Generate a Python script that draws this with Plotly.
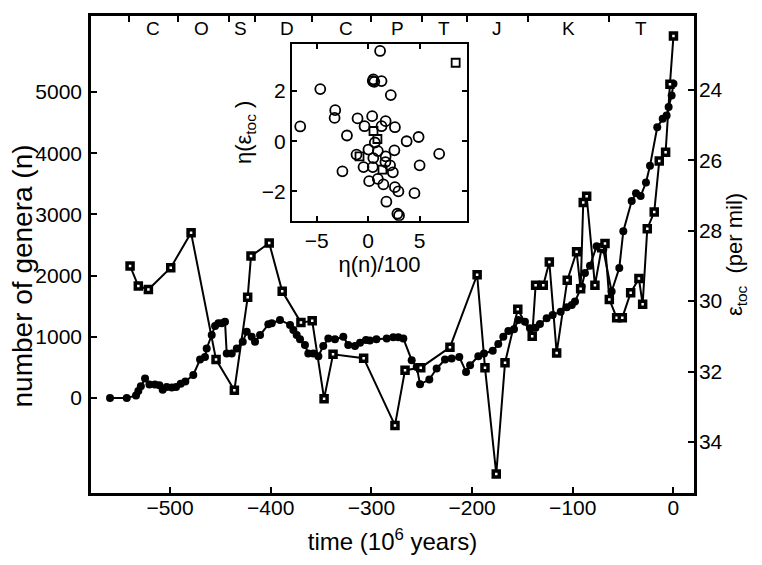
import plotly.graph_objects as go

# ---- main panel data ----
time_n = [-559.6, -543, -533.8, -531.5, -529, -524.8, -520.5, -515, -510.6, -507.3,
          -503.3, -498.3, -494, -489.4, -484.8, -476.9, -470.2, -465.3, -463.6, -458.6,
          -455.3, -452, -448.7, -445.4, -443.7, -438.7, -433.7, -427.8, -423.8, -418.9,
          -415.6, -410.6, -402.4, -399, -390.8, -380.8, -377.5, -374.2, -370.9, -366,
          -362.7, -357.7, -352.7, -347.8, -342.8, -336.2, -327.9, -323, -316.3, -311.3,
          -305.4, -301.5, -295, -284.8, -278.3, -273.3, -268.3, -260, -255, -251.7,
          -242.5, -235.2, -226.9, -220.3, -212.7, -206, -202, -193.8, -188.2, -179.5,
          -174, -169, -164, -158.4, -154.1, -147.5, -142.5, -137, -132.6, -125.9,
          -120, -112, -106, -101, -97.8, -91.2, -87.9, -82.9, -76.3, -69.7,
          -61.4, -53.8, -49.8, -41.5, -37.2, -32.6, -27.3, -23.3, -16.1, -10.7,
          -6.8, -4.8, -1.8, 0]
genera_n = [0, 0, 44, 115, 192, 318, 220, 220, 208, 138,
            180, 171, 180, 236, 269, 378, 630, 673, 811, 1030,
            1177, 1222, 1222, 1248, 729, 729, 811, 920, 1084, 1002,
            920, 1030, 1205, 1222, 1276, 1194, 1110, 1030, 959, 865,
            729, 729, 685, 849, 975, 959, 1002, 865, 849, 903,
            947, 940, 960, 975, 992, 992, 975, 619, 509, 225,
            302, 483, 630, 647, 673, 427, 537, 685, 729, 772,
            882, 1002, 1095, 1123, 1276, 1248, 1140, 1150, 1210, 1303,
            1358, 1412, 1484, 1522, 1576, 1823, 2043, 2163, 2480, 2425,
            1741, 2125, 2726, 3218, 3345, 3300, 3520, 3793, 4424, 4560,
            4614, 4752, 4943, 5135]

time_e = [-539.7, -531.5, -521.5, -499.3, -479.1, -454.3, -436.1, -422.9, -419.6, -401.5,
          -388.6, -370, -358.8, -347, -338.1, -307.7, -276.6, -266.6, -251, -222,
          -195, -187.2, -176, -167.3, -154.6, -140.3, -136.9, -129.3, -123.3, -116,
          -105.5, -96.2, -92.2, -89.6, -86.2, -78, -71.3, -68, -63.7, -56.4,
          -50.8, -42.5, -34.3, -30.6, -26, -19.1, -14.1, -7.8, -3.5, 0]
eps_toc = [29.0, 29.57, 29.67, 29.05, 28.06, 31.66, 32.53, 29.89, 28.72, 28.35,
           29.72, 30.61, 30.56, 32.77, 31.51, 31.62, 33.53, 31.96, 31.89, 31.31,
           29.25, 31.89, 34.91, 31.75, 30.23, 31.0, 29.55, 29.55, 28.89, 31.47,
           29.41, 28.6, 29.65, 27.2, 27.02, 29.55, 28.48, 28.36, 29.95, 30.47,
           30.47, 29.76, 29.36, 30.09, 27.94, 27.47, 26.02, 25.77, 23.84, 22.47]

# ---- geologic periods (top of frame) ----
period_labels = ["C", "O", "S", "D", "C", "P", "T", "J", "K", "T"]
period_label_t = [-517, -469, -430, -384, -325, -274, -228, -175, -104, -32]
period_bounds = [-541, -492, -441, -416, -359, -300, -250, -205, -144, -64]

# ---- inset data: eta(n)/100 vs eta(eps_toc) ----
inset_circ_x = [1.16, 0.5, 0.6, 1.3, 2.2, -4.65, -3.2, -3.26, -6.6, -1.03,
                0.39, -0.35, 1.7, 1.3, 2.6, -2.06, 3.74, 4.9, 6.9, 5.0,
                2.55, -1.13, 0.03, 0.94, 0.5, 1.7, -0.45, 0.45, 1.68, 2.13,
                2.4, -2.5, 0.1, 0.94, 1.48, 2.6, 2.94, 4.5, 1.77, 2.84,
                3.0, 0.65, 0.45]
inset_circ_y = [3.6, 2.47, 2.37, 2.4, 1.84, 2.08, 1.24, 0.93, 0.59, 0.91,
                1.0, 0.6, 0.8, 0.6, 0.56, 0.23, 0.0, 0.17, -0.5, -0.96,
                -0.36, -0.53, -0.33, -0.39, -0.67, -0.6, -1.03, -1.03, -0.83, -0.96,
                -1.24, -1.2, -1.59, -1.5, -1.72, -1.83, -2.0, -2.07, -2.41, -2.89,
                -2.96, -0.05, 2.4]
inset_sq_x = [0.52, 0.9, -0.84, 1.39, 8.5]
inset_sq_y = [0.41, 0.09, -0.6, -1.13, 3.13]

FONT = "Liberation Sans, Arial, sans-serif"
BLACK = "black"

fig = go.Figure()

fig.add_trace(go.Scatter(
    x=time_n, y=genera_n, mode="lines+markers", xaxis="x", yaxis="y",
    line=dict(color=BLACK, width=2),
    marker=dict(symbol="circle", size=8, color=BLACK),
    showlegend=False, hoverinfo="skip"))

fig.add_trace(go.Scatter(
    x=time_e, y=eps_toc, mode="lines+markers", xaxis="x", yaxis="y2",
    line=dict(color=BLACK, width=2),
    marker=dict(symbol="square", size=6, color="white", line=dict(color=BLACK, width=3.5)),
    showlegend=False, hoverinfo="skip"))

# invisible trace to carry the top (period boundary) axis
fig.add_trace(go.Scatter(
    x=[period_bounds[0], period_bounds[-1]], y=[-1000, -1000], mode="markers",
    xaxis="x2", yaxis="y", marker=dict(opacity=0), showlegend=False, hoverinfo="skip"))

fig.add_trace(go.Scatter(
    x=inset_circ_x, y=inset_circ_y, mode="markers", xaxis="x3", yaxis="y3",
    marker=dict(symbol="circle-open", size=10, color=BLACK, line=dict(width=1.8)),
    showlegend=False, hoverinfo="skip"))
fig.add_trace(go.Scatter(
    x=inset_sq_x, y=inset_sq_y, mode="markers", xaxis="x3", yaxis="y3",
    marker=dict(symbol="square-open", size=8, color=BLACK, line=dict(width=1.8)),
    showlegend=False, hoverinfo="skip"))

XR = [-578.5, 20.4]
tickfont = dict(family=FONT, size=21, color=BLACK)

# page body has an 8px margin, so the figure is sized/margined to compensate
fig.update_layout(
    width=754, height=557,
    margin=dict(l=83, r=68, t=8, b=72, autoexpand=False),
    paper_bgcolor="white", plot_bgcolor="white",
    font=dict(family=FONT, color=BLACK),
    xaxis=dict(domain=[0, 1], range=XR, anchor="y", automargin=False,
               tickvals=[-500, -400, -300, -200, -100, 0],
               ticks="inside", ticklen=6, tickwidth=1.5, tickcolor=BLACK,
               showline=True, linewidth=2.5, linecolor=BLACK,
               showgrid=False, zeroline=False, tickfont=tickfont,
               ticklabelstandoff=-6,
               title=dict(text="time (10<sup>6</sup> years)",
                          font=dict(family=FONT, size=24), standoff=16)),
    xaxis2=dict(overlaying="x", side="top", range=XR, anchor="y", automargin=False,
                tickvals=period_bounds, ticks="inside", ticklen=6, tickwidth=1.5,
                tickcolor=BLACK, showticklabels=False,
                showline=True, linewidth=2.5, linecolor=BLACK,
                showgrid=False, zeroline=False),
    yaxis=dict(domain=[0, 1], range=[-1550, 6240], anchor="x", automargin=False,
               tickvals=[0, 1000, 2000, 3000, 4000, 5000],
               ticks="inside", ticklen=6, tickwidth=1.5, tickcolor=BLACK,
               showline=True, linewidth=2.5, linecolor=BLACK,
               showgrid=False, zeroline=False, tickfont=tickfont,
               ticklabelstandoff=2),
    yaxis2=dict(overlaying="y", side="right", range=[35.45, 21.9], anchor="x",
                automargin=False,
                tickvals=[24, 26, 28, 30, 32, 34],
                ticks="inside", ticklen=6, tickwidth=1.5, tickcolor=BLACK,
                showline=True, linewidth=2.5, linecolor=BLACK,
                showgrid=False, zeroline=False, tickfont=tickfont,
                ticklabelstandoff=-2,
                title=dict(text="ε<sub>toc</sub>  (per mil)",
                           font=dict(family=FONT, size=22), standoff=4)),
    xaxis3=dict(domain=[0.3333, 0.6235], anchor="y3", range=[-7.4, 9.6],
                automargin=False,
                tickvals=[-5, 0, 5], ticks="inside", ticklen=5, tickwidth=1.5,
                tickcolor=BLACK, mirror="ticks",
                showline=True, linewidth=2, linecolor=BLACK,
                showgrid=False, zeroline=False, tickfont=tickfont,
                title=dict(text="η(n)/100", font=dict(family=FONT, size=22), standoff=3)),
    yaxis3=dict(domain=[0.5707, 0.9414], anchor="x3", range=[-3.17, 3.88],
                automargin=False,
                tickvals=[-2, 0, 2], ticks="inside", ticklen=5, tickwidth=1.5,
                tickcolor=BLACK, mirror="ticks",
                showline=True, linewidth=2, linecolor=BLACK,
                showgrid=False, zeroline=False, tickfont=tickfont,
                title=dict(text="η(ε<sub>toc</sub> )", font=dict(family=FONT, size=22), standoff=4)),
)

# left axis title (placed slightly below the plot centre, as in the original)
fig.add_annotation(text="number of genera (n)", textangle=-90,
                   xref="paper", yref="paper", x=-0.1136, y=0.455,
                   xanchor="center", yanchor="middle", showarrow=False,
                   font=dict(family=FONT, size=28, color=BLACK))

for lab, t in zip(period_labels, period_label_t):
    fig.add_annotation(x=t, xref="x", y=1, yref="paper", yanchor="top",
                       yshift=0, text=lab, showarrow=False,
                       font=dict(family=FONT, size=19, color=BLACK))

fig.write_html("out.html")
